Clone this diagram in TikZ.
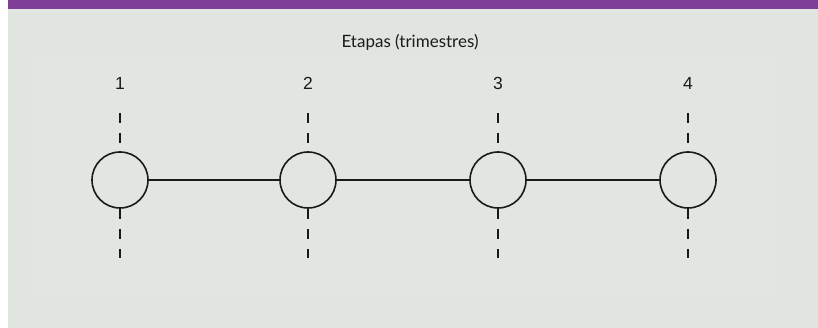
\documentclass[tikz,border=0pt]{standalone}
\usepackage{fontspec}
\setmainfont{Liberation Sans}
\newfontfamily\titlefont{Lato}
\definecolor{bg}{HTML}{E0E5E0}
\definecolor{inner}{HTML}{E1E6E1}
\definecolor{barpurple}{HTML}{7F3F98}
\definecolor{ink}{HTML}{1A1A1A}
\begin{document}
\begin{tikzpicture}[x=1pt,y=-1pt,
  stage/.style={circle,draw=ink,line width=1.6pt,minimum size=56pt,inner sep=0pt},
  link/.style={draw=ink,line width=1.2pt},
  tick/.style={draw=ink,line width=1.6pt,dash pattern=on 10pt off 10pt},
  num/.style={font=\fontsize{17.5}{20}\selectfont,text=ink},
  title/.style={font=\titlefont\fontsize{17}{20}\selectfont,text=ink}]
\useasboundingbox (0,0) rectangle (818,328);
\fill[white] (0,0) rectangle (818,328);
\fill[bg] (8,0) rectangle (818,328);
\fill[inner] (32,60) rectangle (774,291);
\fill[barpurple] (8,0) rectangle (818,9);
\node[title] (t) at (410,42) {Etapas (trimestres)};
\foreach \i/\x in {1/120,2/308,3/498,4/688}{
  \node[stage] (c\i) at (\x,180) {};
  \node[num] (n\i) at (\x,83) {\i};
  \coordinate (up\i) at (\x,113);
  \coordinate (dn\i) at (\x,258);
  \draw[tick] (up\i) -- (c\i.north);
  \draw[tick] (c\i.south) -- (dn\i);
}
\draw[link] (c1) -- (c2);
\draw[link] (c2) -- (c3);
\draw[link] (c3) -- (c4);
\end{tikzpicture}
\end{document}
